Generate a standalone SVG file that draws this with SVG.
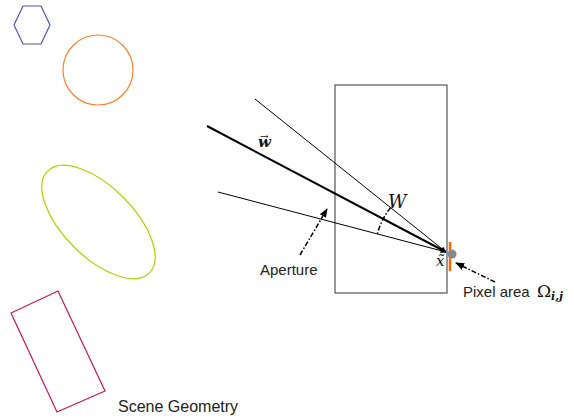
<svg xmlns="http://www.w3.org/2000/svg" width="574" height="418" viewBox="0 0 574 418">
<style>
.lbl{font-family:"Liberation Sans",Arial,sans-serif;font-size:15px;fill:#222}
.math{font-family:"DejaVu Serif","Liberation Serif",serif;fill:#111}
.ray{stroke:#000;fill:none}
.dd{stroke:#000;stroke-width:1.5;fill:none;stroke-dasharray:5 2 1.5 2}
</style>
<defs>
<marker id="ah" viewBox="0 0 10 10" refX="9" refY="5" markerWidth="6" markerHeight="6" orient="auto" markerUnits="userSpaceOnUse">
<path d="M0,1 L10,5 L0,9 Z" fill="#000"/>
</marker>
<marker id="ah2" viewBox="0 0 10 10" refX="9" refY="5" markerWidth="9" markerHeight="9" orient="auto" markerUnits="userSpaceOnUse">
<path d="M0,1 L10,5 L0,9 Z" fill="#000"/>
</marker>
</defs>
<g id="hexagon"><polygon points="14,25 23,6 41,6 50,25 41,44 23,44" fill="none" stroke="#5050b4" stroke-width="1.2"/></g>
<g id="circle"><circle cx="98" cy="70" r="35" fill="none" stroke="#ff7f2a" stroke-width="1.2"/></g>
<g id="ellipse"><ellipse cx="98.5" cy="222" rx="72" ry="35" transform="rotate(45 98.5 222)" fill="none" stroke="#aad400" stroke-width="1.2"/></g>
<g id="box"><polygon points="11,313 58,291 105,391 57,412" fill="none" stroke="#c8194b" stroke-width="1.2"/></g>
<g id="scene-label"><text class="lbl" x="118" y="412" style="font-size:16px">Scene Geometry</text></g>
<g id="sensor"><rect x="335" y="85" width="112" height="208" fill="none" stroke="#333" stroke-width="1"/></g>
<g id="connectors">
<line class="ray" x1="255" y1="99" x2="446" y2="252" stroke-width="1" marker-end="url(#ah)"/>
<line class="ray" x1="218" y1="192" x2="446" y2="252" stroke-width="1" marker-end="url(#ah)"/>
<line class="ray" x1="207" y1="126" x2="446" y2="252" stroke-width="2" marker-end="url(#ah)"/>
<path class="dd" d="M390.6,207.6 A71,71 0 0 0 377.3,234" stroke-width="1.2"/>
<line class="dd" x1="300" y1="255" x2="327" y2="209" marker-end="url(#ah2)"/>
<line class="dd" x1="495" y1="282" x2="456" y2="263" marker-end="url(#ah2)"/>
</g>
<g id="pixel">
<line x1="450" y1="242" x2="450" y2="271" stroke="#ff6600" stroke-width="2.5"/>
<circle cx="452" cy="254" r="4.5" fill="#888"/>
</g>
<g id="labels">
<text class="math" x="258" y="147" style="font-size:15px;font-style:italic;font-weight:bold">w<tspan dx="-11" dy="-7" style="font-size:10px;font-style:normal;font-weight:normal">→</tspan></text>
<text class="math" x="388" y="208" style="font-size:18px;font-style:italic">W</text>
<text class="math" x="436" y="266" style="font-size:15px;font-style:italic">x̃</text>
<text class="lbl" x="260" y="275">Aperture</text>
<text class="lbl" x="463" y="297">Pixel area</text>
<text class="math" x="537" y="297" style="font-size:17px">Ω<tspan dy="3" style="font-size:11px;font-style:italic;font-weight:bold">i,j</tspan></text>
</g>
</svg>
